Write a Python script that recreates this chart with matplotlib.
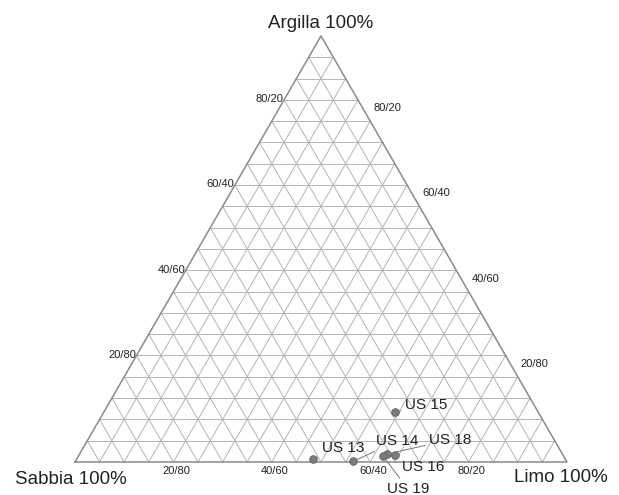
import numpy as np
import matplotlib.pyplot as plt

plt.rcParams['font.family'] = ['Liberation Sans', 'DejaVu Sans']

# sample composition (percent): sand, silt, clay
samples = ['US 13', 'US 14', 'US 15', 'US 16', 'US 18', 'US 19']
sabbia = [51.3, 43.3, 29.1, 34.2, 35.6, 36.7]
limo = [48.0, 56.5, 59.2, 64.2, 62.5, 61.9]
argilla = [0.7, 0.2, 11.7, 1.6, 1.9, 1.4]

# label offsets in pixels (dx, dy)
label_offsets = [(30, 11), (44, 20), (31, 7), (28, -12), (63, 14), (25, -33)]

edge_ticks = [20, 40, 60, 80]
tick_text = ['20/80', '40/60', '60/40', '80/20']

SQ3 = np.sqrt(3) / 2


def tern(a, l):
    # clay on top, silt to the right, sand to the left
    a = np.asarray(a, dtype=float) / 100.0
    l = np.asarray(l, dtype=float) / 100.0
    return l + a / 2.0, a * SQ3


fig = plt.figure(figsize=(6.19, 4.95), dpi=100)
ax = fig.add_axes([0, 0, 1, 1])
ax.set_xlim(-75 / 492, 544 / 492)
ax.set_ylim(-33 / 492, 462 / 492)
ax.axis('off')

grid_kw = dict(color='#b4b4b4', lw=0.7, zorder=1)
for i in range(1, 20):
    f = i * 5
    x, y = tern([f, f], [0, 100 - f])
    ax.plot(x, y, **grid_kw)
    x, y = tern([0, 100 - f], [f, f])
    ax.plot(x, y, **grid_kw)
    x, y = tern([0, 100 - f], [100 - f, 0])
    ax.plot(x, y, **grid_kw)

x, y = tern([0, 0, 100, 0], [0, 100, 0, 0])
ax.plot(x, y, color='#8a8a8a', lw=1.1, zorder=2)

# corner labels
corner_kw = dict(textcoords='offset pixels', fontsize=13.5, ha='center', va='center', color='#222222')
ax.annotate('Argilla 100%', tern(100, 0), xytext=(0, 12), **corner_kw)
ax.annotate('Sabbia 100%', tern(0, 0), xytext=(-4, -17), **corner_kw)
ax.annotate('Limo 100%', tern(0, 100), xytext=(-6, -16), **corner_kw)

# edge tick labels
tick_kw = dict(textcoords='offset pixels', fontsize=8, ha='center', va='center', color='#222222')
for v, t in zip(edge_ticks, tick_text):
    ax.annotate(t, tern(0, v), xytext=(3, -9), **tick_kw)
    ax.annotate(t, tern(v, 0), xytext=(-2, 22), **tick_kw)
    ax.annotate(t, tern(v, 100 - v), xytext=(17, 13), **tick_kw)

# samples
px, py = tern(argilla, limo)
ax.scatter(px, py, s=30, color='#7c7c7c', edgecolor='#5e5e5e', linewidth=0.6, zorder=4)
for name, xx, yy, off in zip(samples, px, py, label_offsets):
    ax.annotate(name, (xx, yy), xytext=off, textcoords='offset pixels',
                fontsize=11, ha='center', va='center', color='#222222', zorder=5,
                arrowprops=dict(arrowstyle='-', color='#777777', lw=0.7,
                                shrinkA=1, shrinkB=2))

fig.savefig('out.png', dpi=100)
